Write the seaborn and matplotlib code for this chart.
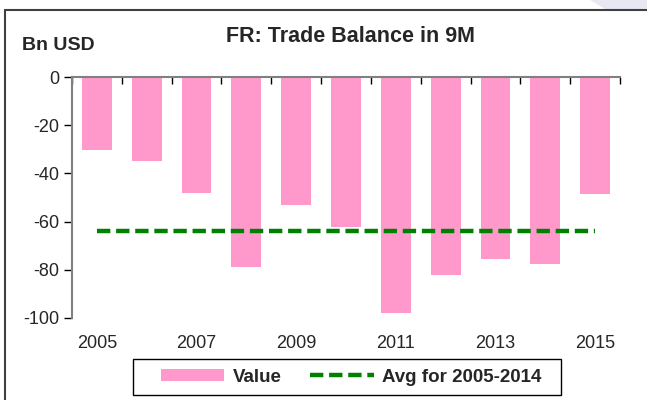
import numpy as np
import pandas as pd
import matplotlib
matplotlib.use("Agg")
import matplotlib.pyplot as plt
import seaborn as sns
from matplotlib.patches import Polygon, Rectangle
from matplotlib.lines import Line2D
from matplotlib.patches import Patch

# data (Bn USD, first 9 months of each year)
years = ["2005", "2006", "2007", "2008", "2009", "2010",
         "2011", "2012", "2013", "2014", "2015"]
values = [-30.2, -35.0, -48.3, -78.7, -53.0, -62.2,
          -97.8, -82.0, -75.5, -77.4, -48.5]
avg_years = years[:10]  # average window 2005-2014
tick_labels = [y if i % 2 == 0 else "" for i, y in enumerate(years)]

df = pd.DataFrame({"year": years, "value": values})
avg = df.loc[df["year"].isin(avg_years), "value"].mean()

sns.set_style("white")
plt.rcParams["font.family"] = ["Liberation Sans", "DejaVu Sans"]
plt.rcParams["axes.unicode_minus"] = False

pink = "#FF99CC"
green = "#008000"

fig = plt.figure(figsize=(6.47, 4.0), dpi=100)
ax = fig.add_axes([72 / 647, 1 - 318 / 400, (620 - 72) / 647, (318 - 77) / 400])

sns.barplot(data=df, x="year", y="value", color=pink, width=0.6,
            saturation=1, edgecolor="none", ax=ax)

# average line across all categories
xpos = np.arange(len(years))
ax.plot(xpos, np.full(len(years), avg), color=green, lw=3.2,
        linestyle=(0, (3.0, 1.3)), zorder=3)

ax.set_xlim(-0.5, len(years) - 0.5)
ax.set_ylim(-100, 0)
ax.set_yticks([0, -20, -40, -60, -80, -100])
ax.set_xticks(xpos)
ax.set_xticklabels(tick_labels, fontsize=13)
ax.set_xticks(np.arange(len(years) + 1) - 0.5, minor=True)
ax.set_xlabel("")
ax.set_ylabel("")

ax.tick_params(axis="y", labelsize=13, direction="out", length=6, width=1,
               color="black", pad=3, left=True)
ax.tick_params(axis="x", which="major", length=0, pad=12)
ax.tick_params(axis="x", which="minor", top=True, bottom=False,
               direction="in", length=5, width=1, color="black")

for side in ["right", "bottom"]:
    ax.spines[side].set_visible(False)
for side in ["left", "top"]:
    ax.spines[side].set_color("#808080")
    ax.spines[side].set_linewidth(1.5)

fig.text(350 / 647, 1 - 36 / 400, "FR: Trade Balance in 9M", ha="center",
         va="center", fontsize=15.5, fontweight="bold")
fig.text(22 / 647, 1 - 46 / 400, "Bn USD", ha="left", va="center",
         fontsize=14, fontweight="bold")

handles = [Patch(facecolor=pink, edgecolor="none"),
           Line2D([], [], color=green, lw=3.2, linestyle=(0, (3.0, 1.3)))]
leg = fig.legend(handles, ["Value", "Avg for 2005-2014"], ncol=2,
                 loc="center", bbox_to_anchor=(351 / 647, 1 - 377 / 400),
                 frameon=False, prop={"size": 13.5, "weight": "bold"},
                 handlelength=3.4, handleheight=0.55, columnspacing=1.5,
                 handletextpad=0.45, borderpad=0.45)
# legend box drawn on its own, the reference has wide side padding
fig.add_artist(Rectangle((133 / 647, 1 - 395 / 400), (561 - 133) / 647,
                         36 / 400, transform=fig.transFigure,
                         facecolor="none", edgecolor="black", lw=1.0))

# outer chart frame and the faint corner shape
fig.add_artist(Polygon([(590 / 647, 1.0), (605 / 647, 1 - 9 / 400),
                        (1.0, 1 - 9 / 400), (1.0, 1.0)], closed=True,
                       transform=fig.transFigure, facecolor="#E8E8F2",
                       edgecolor="none"))
fig.add_artist(Line2D([5 / 647, 1.0], [1 - 9.5 / 400, 1 - 9.5 / 400],
                      transform=fig.transFigure, color="#404040", lw=1.5))
fig.add_artist(Line2D([5 / 647, 5 / 647], [0, 1 - 9.5 / 400],
                      transform=fig.transFigure, color="#404040", lw=1.5))

fig.savefig("out.png", dpi=100)
